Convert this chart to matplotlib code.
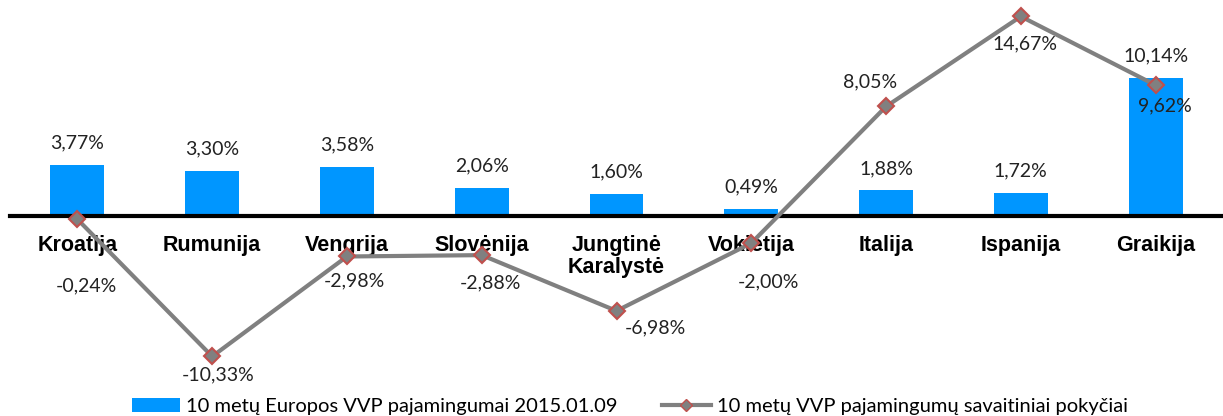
import matplotlib.pyplot as plt
from matplotlib.lines import Line2D
from matplotlib.patches import Patch

# data
countries = ["Kroatija", "Rumunija", "Vengrija", "Slovėnija", "Jungtinė\nKaralystė",
             "Vokietija", "Italija", "Ispanija", "Graikija"]
yields_2015 = [3.77, 3.30, 3.58, 2.06, 1.60, 0.49, 1.88, 1.72, 10.14]
weekly_change = [-0.24, -10.33, -2.98, -2.88, -6.98, -2.00, 8.05, 14.67, 9.62]
bar_label = "10 metų Europos VVP pajamingumai 2015.01.09"
line_label = "10 metų VVP pajamingumų savaitiniai pokyčiai"

# label offsets for the line values (pixels)
line_offsets = [(9, -67), (6, -18), (7, -24), (9, -28), (39, -17),
                (17, -39), (-16, 25), (4, -27), (9, -21)]

BLUE = "#0096FF"
GREY = "#808080"
RED = "#C0504D"


def fmt(v):
    return f"{v:.2f}".replace(".", ",") + "%"


fig = plt.figure(figsize=(12.23, 4.16), dpi=100)
ax = fig.add_axes([10 / 1223, 1 - 385 / 416, 1213 / 1223, 385 / 416])

x = list(range(len(countries)))
ax.bar(x, yields_2015, width=0.4, color=BLUE, zorder=2)
ax.plot(x, weekly_change, color=GREY, lw=3, marker="D", markersize=8,
        markerfacecolor=GREY, markeredgecolor=RED, markeredgewidth=1.5, zorder=4)

# ---- data labels ----
for xi, v in zip(x, yields_2015):
    ax.annotate(fmt(v), (xi, v), xytext=(0, 22), textcoords="offset pixels",
                ha="center", va="center", fontsize=14, family="Lato", color="#222222")
for xi, v, (dx, dy) in zip(x, weekly_change, line_offsets):
    ax.annotate(fmt(v), (xi, v), xytext=(dx, dy), textcoords="offset pixels",
                ha="center", va="center", fontsize=14, family="Lato", color="#222222")

# ---- axes ----
ax.set_xlim(-0.5, 8.5)
ax.set_ylim(-12.43, 15.88)
ax.spines["bottom"].set_position(("data", 0))
ax.spines["bottom"].set_linewidth(3)
ax.spines["bottom"].set_zorder(3)
for s in ["top", "left", "right"]:
    ax.spines[s].set_visible(False)
ax.set_yticks([])
ax.set_xticks(x)
ax.set_xticklabels(countries, fontsize=15.5, fontweight="bold", family="Liberation Sans",
                   linespacing=1.05)
ax.tick_params(axis="x", length=0, pad=14)

# ---- legend ----
handles = [
    Patch(facecolor=BLUE, edgecolor="none"),
    Line2D([0], [0], color=GREY, lw=3, marker="D", markersize=6,
           markerfacecolor=GREY, markeredgecolor=RED),
]
fig.legend(handles, [bar_label, line_label], loc="center", bbox_to_anchor=(0.515, 0.022),
           ncol=2, frameon=False, prop={"family": "Lato", "size": 14.5},
           handlelength=2.4, handleheight=0.7, handletextpad=0.3, columnspacing=2.2)

fig.savefig("out.png", dpi=100)
